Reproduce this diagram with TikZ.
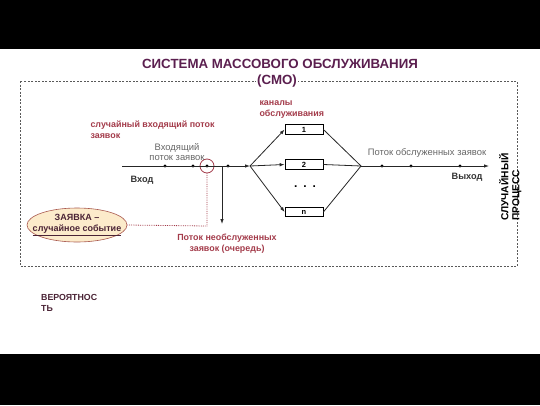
\documentclass[tikz,border=0pt]{standalone}
\usepackage{fontspec}
\setmainfont{Liberation Sans}
\usetikzlibrary{arrows.meta,shapes.geometric}
\definecolor{titlec}{HTML}{5B1F4F}
\definecolor{redc}{HTML}{A33B4A}
\definecolor{grayc}{HTML}{666666}
\definecolor{ellf}{HTML}{FCEBCB}
\definecolor{elld}{HTML}{A8584E}
\definecolor{darkt}{HTML}{4A2335}
\tikzset{
  pt/.style={circle,fill=black,inner sep=0pt,minimum size=3.4pt},
  chan/.style={draw,thick,minimum width=38pt,minimum height=9.5pt,inner sep=0pt,font=\bfseries\fontsize{7.5}{8}\selectfont},
  redlbl/.style={text=redc,font=\bfseries\fontsize{8.9}{11.5}\selectfont,align=left},
  graylbl/.style={text=grayc,font=\fontsize{9.4}{10.5}\selectfont,align=center},
  blacklbl/.style={text=black!80,font=\bfseries\fontsize{9.2}{10}\selectfont},
  arr/.style={-{Latex[length=5pt,width=3.5pt]}},
  line/.style={thick,black!85}
}
\begin{document}
\begin{tikzpicture}[x=1pt,y=-1pt]
\useasboundingbox (0,0) rectangle (540,405);
\fill[black] (0,0) rectangle (540,49);
\fill[black] (0,354) rectangle (540,405);
% dashed frame
\draw[gray!70!black,dash pattern=on 2pt off 1.5pt] (20,81) rectangle (517,266);
% title
\node[text=titlec,font=\bfseries\fontsize{13.3}{15}\selectfont] (title) at (280,64) {СИСТЕМА МАССОВОГО ОБСЛУЖИВАНИЯ};
\node[text=titlec,font=\bfseries\fontsize{13.3}{15}\selectfont,fill=white,inner sep=1pt] (smo) at (277,81.5) {(СМО)};
% main flow points
\coordinate (start) at (122,166);
\node[pt] (d1) at (165,166) {};
\node[pt] (d2) at (193,166) {};
\node[pt] (d3) at (207,166) {};
\coordinate (br) at (222,166);
\node[pt] (d4) at (228,166) {};
\coordinate (fork) at (250,166);
\coordinate (join) at (361,166);
\node[pt] (o1) at (382,166) {};
\node[pt] (o2) at (411,166) {};
\node[pt] (o3) at (460,166) {};
\coordinate (end) at (489,166);
\coordinate (down) at (222,224);
% circle
\node[draw=redc,thick,circle,minimum size=14pt,inner sep=0pt] (ring) at (207,166) {};
% channels
\node[chan] (c1) at (304,129.5) {1};
\node[chan] (c2) at (304,164.5) {2};
\node[chan] (cn) at (304,212) {n};
\node[font=\bfseries\fontsize{12}{12}\selectfont] (dots) at (305,187) {.\hspace{6pt}.\hspace{6pt}.};
% lines
\draw[line,arr] (start) -- (fork);
\draw[line,arr] (fork) -- (c1.west);
\draw[line,arr] (fork) -- (c2.west);
\draw[line,arr] (fork) -- (cn.west);
\draw[line] (c1.east) -- (join);
\draw[line] (c2.east) -- (join);
\draw[line] (cn.east) -- (join);
\draw[line,arr] (join) -- (end);
\draw[line,arr] (br) -- (down);
% ellipse
\node[ellipse,draw=elld,semithick,fill=ellf,minimum width=100pt,minimum height=34pt,inner xsep=-9pt,inner ysep=-2pt,align=center,text=darkt,font=\bfseries\fontsize{9}{11}\selectfont] (zayavka) at (77,225) {ЗАЯВКА –\\\underline{случайное событие}};
\coordinate (corner) at (207,226);
\draw[redc,densely dotted,thick] (ring.south) -- (corner) -- (zayavka.east);
% labels
\node[redlbl,anchor=north west] (l1) at (87,117) {случайный входящий поток\\заявок};
\node[redlbl,anchor=north west] (l2) at (256,97) {каналы\\обслуживания};
\node[graylbl] (l3) at (177,152) {Входящий\\поток заявок};
\node[blacklbl] (l4) at (142,180) {Вход};
\node[graylbl] (l5) at (427,153) {Поток обслуженных заявок};
\node[blacklbl] (l6) at (467,177) {Выход};
\node[redlbl,align=center] (l7) at (227,243.5) {Поток необслуженных\\заявок (очередь)};
\node[rotate=90,anchor=north west,align=left,font=\bfseries\fontsize{10.2}{11}\selectfont,inner sep=1pt] (proc) at (498,222) {СЛУЧАЙНЫЙ\\ПРОЦЕСС};
\node[anchor=north west,align=left,text=darkt,font=\bfseries\fontsize{8.8}{11.5}\selectfont,inner sep=0pt] (ver) at (41,294) {ВЕРОЯТНОС\\ТЬ};
\end{tikzpicture}
\end{document}
